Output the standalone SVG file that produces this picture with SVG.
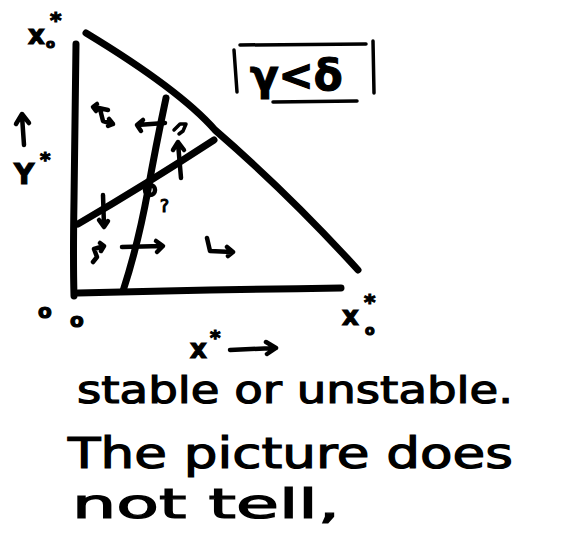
<svg xmlns="http://www.w3.org/2000/svg" width="581" height="534" viewBox="0 0 581 534">
<style>
.ln{fill:none;stroke:#000;stroke-linecap:round;stroke-linejoin:round}
.thick{stroke-width:7}
.med{stroke-width:4.5}
.thin{stroke-width:3.5}
.hand{font-family:"DejaVu Sans","Liberation Sans",sans-serif;fill:#000;stroke:#000;stroke-width:1.2}
</style>
<rect width="581" height="534" fill="#fff"/>
<!-- axes -->
<path class="ln thick" d="M76 44 Q75 120 74 200 Q73 260 74 296"/>
<path class="ln thick" d="M78 293 Q200 290 341 288"/>
<!-- hypotenuse -->
<path class="ln thick" d="M86 33 Q180 90 215 130 Q290 195 358 270"/>
<!-- steep isocline -->
<path class="ln thick" d="M166 98 Q155 150 148 190 Q138 245 123 291"/>
<!-- other isocline -->
<path class="ln thick" d="M78 224 Q145 185 214 140"/>
<!-- equilibrium circle -->
<circle cx="150" cy="190" r="5" class="ln med"/>
<text x="160" y="212" class="hand" font-size="17" stroke-width="0.6">?</text>
<!-- small flow symbols -->
<g id="sym-top-left">
<path class="ln med" d="M108 110 L94 107 M97 104 L93 107 L96 111 M100 109 L103 121 L113 124 M109 119 L113 124 L108 126"/>
</g>
<g id="arrow-left">
<path class="ln med" d="M165 123 L137 125 M143 120 L137 125 L141 131"/>
</g>
<g id="sym-top-right">
<path class="ln thin" d="M174 130 L180 124 L186 124 L183 131 L179 134"/>
</g>
<g id="arrow-up">
<path class="ln med" d="M181 178 L178 143 M173 150 L178 142 L184 150"/>
</g>
<g id="arrow-down">
<path class="ln med" d="M103 195 L104 226 M99 220 L104 227 L108 221"/>
</g>
<g id="sym-bottom-left">
<path class="ln med" d="M104 246 L94 249 L97 257 L93 262 M100 243 L104 246 L101 251"/>
</g>
<g id="arrow-right">
<path class="ln med" d="M122 247 L162 246 M156 241 L163 246 L157 252"/>
</g>
<g id="sym-bottom-right">
<path class="ln med" d="M207 238 L210 251 L232 252 M227 247 L233 252 L228 256"/>
</g>
<!-- labels -->
<text x="28" y="44" class="hand" font-size="26" font-weight="bold">x</text>
<text x="46" y="48" class="hand" font-size="13" font-weight="bold">o</text>
<text x="50" y="28" class="hand" font-size="22" font-weight="bold">*</text>
<path class="ln med" d="M24 145 L22 116 M16 124 L22 114 L29 123"/>
<text x="14" y="184" class="hand" font-size="28" font-weight="bold">Y</text>
<text x="40" y="166" class="hand" font-size="20" font-weight="bold">*</text>
<!-- gamma < delta box -->
<g id="cond">
<path class="ln thin" d="M234 50 L237 92 M373 41 L374 93 M240 45 L366 44 M273 102 L357 101"/>
<text x="250" y="90" class="hand" font-size="42" font-weight="bold" stroke-width="1.5">γ&lt;δ</text>
</g>
<text x="38" y="318" class="hand" font-size="20" font-weight="bold">o</text>
<text x="70" y="327" class="hand" font-size="20" font-weight="bold">o</text>
<text x="342" y="325" class="hand" font-size="26" font-weight="bold">x</text>
<text x="365" y="335" class="hand" font-size="14" font-weight="bold">o</text>
<text x="364" y="310" class="hand" font-size="22" font-weight="bold">*</text>
<text x="190" y="358" class="hand" font-size="26" font-weight="bold">x</text>
<text x="210" y="344" class="hand" font-size="20" font-weight="bold">*</text>
<path class="ln med" d="M230 350 L275 348 M266 342 L276 348 L267 354"/>
<!-- caption -->
<text x="77" y="403" class="hand" font-size="38" textLength="436" lengthAdjust="spacingAndGlyphs">stable or unstable.</text>
<text x="68" y="468" class="hand" font-size="42" textLength="445" lengthAdjust="spacingAndGlyphs">The picture does</text>
<text x="72" y="518" class="hand" font-size="40" textLength="268" lengthAdjust="spacingAndGlyphs">not tell,</text>
</svg>
